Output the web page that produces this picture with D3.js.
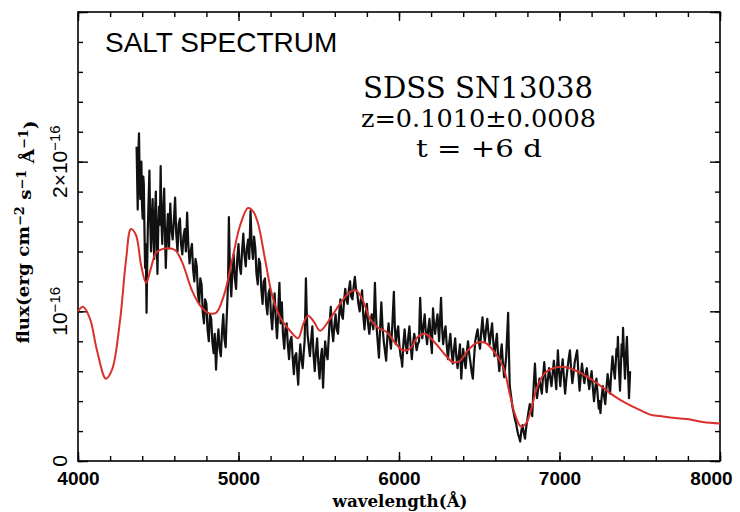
<!DOCTYPE html>
<html>
<head>
<meta charset="utf-8">
<title>SALT spectrum SDSS SN13038</title>
<script src="https://d3js.org/d3.v7.min.js"></script>
<style>
    body { margin: 0; background: #fff; }
</style>
</head>
<body>
<div id="chart"></div>
<script>
    // observed SALT spectrum, [wavelength (A), flux in 1e-16 erg/cm2/s/A]
    var obsSpectrum = [
        [4365,2.10],[4370,1.80],[4372,1.68],[4376,2.05],[4380,2.19],[4384,1.90],[4388,1.75],[4392,1.95],[4395,2.00],[4399,1.70],[4403,1.62],[4407,1.90],[4410,1.85],[4414,1.55],[4418,1.29],[4422,1.45],
        [4427,0.99],[4431,1.30],[4435,1.55],[4440,1.75],[4445,1.94],[4450,1.60],[4455,1.40],[4460,1.62],[4465,1.75],[4470,1.50],[4475,1.35],[4480,1.66],[4485,1.80],[4490,1.50],[4495,1.25],[4500,1.55],
        [4505,1.70],[4510,1.58],[4515,1.97],[4520,1.60],[4525,1.45],[4531,1.68],[4537,1.82],[4542,1.52],[4547,1.29],[4553,1.50],[4560,1.65],[4567,1.42],[4575,1.72],[4582,1.55],[4590,1.48],[4597,1.60],
        [4605,1.76],[4612,1.52],[4620,1.40],[4627,1.58],[4635,1.62],[4642,1.45],[4650,1.38],[4657,1.50],[4665,1.55],[4672,1.40],[4680,1.66],[4687,1.45],[4695,1.32],[4702,1.40],[4710,1.45],[4717,1.28],
        [4725,1.20],[4732,1.35],[4740,1.30],[4747,1.12],[4755,1.05],[4762,1.22],[4770,1.18],[4777,1.00],[4785,0.92],[4792,1.08],[4800,1.05],[4807,0.88],[4815,0.80],[4822,0.98],[4830,0.95],[4837,0.80],
        [4845,0.72],[4852,0.85],[4860,0.61],[4867,0.78],[4875,0.88],[4882,0.75],[4890,0.70],[4897,0.86],[4905,0.98],[4912,0.82],[4920,0.76],[4925,0.92],[4930,1.05],[4935,1.20],[4940,1.63],[4947,1.25],
        [4955,1.10],[4962,1.28],[4970,1.38],[4977,1.22],[4985,1.15],[4992,1.35],[5000,1.45],[5007,1.30],[5015,1.25],[5022,1.40],[5030,1.52],[5037,1.38],[5045,1.30],[5052,1.42],[5060,1.48],[5067,1.35],
        [5075,1.67],[5082,1.45],[5090,1.35],[5097,1.50],[5105,1.42],[5112,1.25],[5120,1.18],[5127,1.35],[5135,1.32],[5142,1.15],[5150,1.05],[5157,1.20],[5165,1.22],[5172,1.05],[5180,0.98],[5187,1.12],
        [5195,1.15],[5202,0.98],[5210,0.88],[5217,1.02],[5225,1.12],[5232,0.95],[5240,0.82],[5247,0.98],[5255,1.19],[5262,0.92],[5270,1.06],[5277,0.85],[5285,0.75],[5292,0.88],[5300,0.92],[5307,0.78],
        [5315,0.68],[5322,0.80],[5330,0.83],[5337,0.70],[5345,0.58],[5352,0.70],[5360,0.72],[5366,0.60],[5372,0.51],[5378,0.66],[5385,0.78],[5392,0.68],[5400,0.62],[5406,0.72],[5412,0.80],[5416,1.00],
        [5420,1.22],[5425,1.00],[5430,0.85],[5437,0.78],[5445,0.70],[5452,0.80],[5460,0.90],[5467,0.72],[5475,0.60],[5482,0.72],[5490,0.82],[5497,0.66],[5505,0.55],[5512,0.68],[5520,0.75],[5523,0.60],
        [5527,0.49],[5533,0.66],[5540,0.80],[5547,0.72],[5555,0.68],[5565,0.88],[5575,1.03],[5582,0.88],[5590,0.80],[5597,0.90],[5605,0.98],[5612,0.88],[5620,0.85],[5627,0.98],[5635,1.08],[5642,0.98],
        [5650,0.95],[5657,1.06],[5665,1.15],[5672,1.08],[5680,1.05],[5687,1.14],[5695,1.20],[5702,1.10],[5710,1.08],[5717,1.16],[5725,1.23],[5732,1.15],[5740,1.12],[5747,1.05],[5755,1.00],[5762,1.08],
        [5770,1.14],[5777,0.98],[5785,0.88],[5792,0.98],[5800,1.05],[5807,0.92],[5815,0.85],[5822,0.92],[5830,0.98],[5835,0.92],[5840,0.88],[5845,1.00],[5850,1.19],[5855,1.02],[5860,0.90],[5867,0.80],
        [5875,0.69],[5882,0.88],[5890,1.06],[5897,0.90],[5905,0.80],[5912,0.74],[5920,0.67],[5927,0.82],[5935,0.92],[5942,0.82],[5950,0.75],[5959,0.92],[5968,1.13],[5974,0.90],[5980,0.78],[5987,0.85],
        [5995,0.90],[6002,0.78],[6010,0.70],[6015,0.68],[6020,0.63],[6027,0.78],[6035,0.88],[6042,0.78],[6050,0.72],[6057,0.82],[6065,0.90],[6072,0.78],[6080,0.68],[6087,0.78],[6095,0.85],[6102,0.80],
        [6110,0.74],[6117,0.78],[6125,0.80],[6128,0.95],[6132,1.09],[6138,0.92],[6145,0.82],[6152,0.90],[6160,0.98],[6167,0.86],[6175,0.78],[6182,0.88],[6190,0.95],[6197,0.82],[6205,0.72],[6208,0.88],
        [6212,1.02],[6218,0.92],[6225,0.85],[6232,0.92],[6240,0.98],[6245,0.88],[6250,0.80],[6256,0.95],[6262,1.09],[6268,0.90],[6275,0.78],[6282,0.85],[6290,0.90],[6297,0.78],[6305,0.68],[6312,0.78],
        [6320,0.85],[6327,0.74],[6335,0.65],[6342,0.74],[6350,0.82],[6357,0.70],[6365,0.62],[6372,0.70],[6380,0.78],[6384,0.66],[6388,0.55],[6394,0.66],[6400,0.75],[6407,0.68],[6415,0.62],[6422,0.72],
        [6430,0.80],[6437,0.72],[6445,0.66],[6452,0.60],[6460,0.55],[6467,0.68],[6475,0.80],[6482,0.84],[6490,0.88],[6497,0.80],[6505,0.75],[6512,0.86],[6520,0.96],[6527,0.86],[6535,0.80],[6542,0.88],
        [6550,0.95],[6557,0.86],[6565,0.78],[6572,0.85],[6580,0.92],[6587,0.80],[6595,0.70],[6602,0.78],[6610,0.85],[6617,0.70],[6625,0.60],[6632,0.70],[6640,0.78],[6647,0.66],[6655,0.56],[6661,0.62],
        [6668,0.70],[6674,0.85],[6680,0.99],[6685,0.72],[6690,0.50],[6695,0.46],[6700,0.42],[6707,0.36],[6715,0.32],[6722,0.28],[6730,0.25],[6736,0.21],[6742,0.18],[6748,0.16],[6755,0.13],[6762,0.20],
        [6770,0.24],[6777,0.19],[6785,0.15],[6792,0.22],[6800,0.28],[6807,0.33],[6815,0.38],[6822,0.34],[6830,0.30],[6838,0.48],[6847,0.65],[6853,0.52],[6860,0.42],[6867,0.48],[6875,0.55],[6882,0.50],
        [6890,0.45],[6897,0.56],[6905,0.66],[6912,0.56],[6920,0.46],[6927,0.54],[6935,0.62],[6942,0.56],[6950,0.50],[6957,0.58],[6965,0.67],[6972,0.57],[6980,0.48],[6985,0.62],[6990,0.74],[6997,0.60],
        [7005,0.50],[7012,0.60],[7020,0.68],[7027,0.56],[7035,0.45],[7042,0.54],[7050,0.62],[7057,0.68],[7065,0.74],[7072,0.62],[7080,0.52],[7087,0.58],[7095,0.66],[7102,0.70],[7110,0.74],[7117,0.60],
        [7125,0.47],[7132,0.56],[7140,0.65],[7147,0.58],[7155,0.52],[7162,0.58],[7170,0.62],[7177,0.55],[7185,0.48],[7192,0.54],[7200,0.60],[7207,0.50],[7215,0.40],[7222,0.48],[7230,0.55],[7237,0.45],
        [7245,0.35],[7250,0.40],[7255,0.32],[7262,0.42],[7270,0.50],[7277,0.44],[7285,0.38],[7292,0.48],[7300,0.58],[7307,0.52],[7315,0.45],[7322,0.58],[7330,0.70],[7337,0.62],[7345,0.55],[7350,0.65],
        [7355,0.75],[7360,0.70],[7364,0.83],[7370,0.62],[7377,0.47],[7382,0.62],[7387,0.78],[7392,0.70],[7396,0.89],[7402,0.70],[7408,0.55],[7414,0.70],[7420,0.83],[7427,0.60],[7433,0.42],[7437,0.52],
        [7440,0.60]
    ];

    // SALT model fit, same units
    var modelSpectrum = [
        [4000,1.00],[4031,1.03],[4075,0.95],[4118,0.74],[4174,0.55],[4212,0.61],[4262,0.94],[4299,1.34],
        [4330,1.55],[4361,1.51],[4393,1.31],[4424,1.19],[4455,1.29],[4486,1.39],[4542,1.42],[4604,1.41],
        [4648,1.33],[4710,1.14],[4760,1.04],[4810,0.99],[4860,0.99],[4910,1.11],[4960,1.34],[5009,1.57],
        [5059,1.69],[5090,1.67],[5121,1.59],[5165,1.35],[5209,1.11],[5259,0.96],[5321,0.87],[5371,0.82],
        [5402,0.91],[5433,0.97],[5470,0.93],[5508,0.87],[5570,0.95],[5632,1.05],[5695,1.13],[5732,1.14],
        [5776,1.07],[5819,0.95],[5869,0.89],[5925,0.86],[5975,0.79],[6025,0.74],[6068,0.75],[6118,0.83],
        [6162,0.85],[6224,0.79],[6287,0.71],[6336,0.66],[6380,0.67],[6430,0.74],[6486,0.79],[6536,0.79],
        [6586,0.74],[6648,0.63],[6692,0.44],[6723,0.31],[6760,0.23],[6791,0.25],[6822,0.34],[6860,0.49],
        [6910,0.59],[6960,0.62],[7016,0.63],[7065,0.62],[7128,0.59],[7190,0.55],[7271,0.49],[7346,0.43],
        [7408,0.39],[7483,0.35],[7564,0.31],[7626,0.30],[7688,0.29],[7794,0.28],[7894,0.26],[8000,0.25]
    ];

    var xMajorTicks = [4000, 5000, 6000, 7000, 8000];
    var yTickLabels = [
        {v: 0, base: "0", exp: ""},
        {v: 1, base: "10", exp: "\u221216"},
        {v: 2, base: "2\u00d710", exp: "\u221216"}
    ];
    var infoLines = ["SDSS SN13038", "z=0.1010\u00b10.0008", "t = +6 d"];

    var W = 740, H = 512;
    var margin = {left: 78, right: 20, top: 12, bottom: 51};
    var sans = "'Liberation Sans', Arial, sans-serif";
    var serif = "'DejaVu Serif', serif";

    function createCanvas() {
        return d3.select("#chart").append("svg")
            .attr("width", W)
            .attr("height", H);
    }

    function drawChart() {
        var svg = createCanvas();
        var x = d3.scaleLinear().domain([4000, 8000]).range([margin.left, W - margin.right]);
        var y = d3.scaleLinear().domain([0, 3]).range([H - margin.bottom, margin.top]);

        drawAxes(svg, x, y);
        drawSpectra(svg, x, y);
        drawText(svg, x, y);
    }

    function styleAxis(g) {
        g.select(".domain").remove();
        g.selectAll(".tick line").attr("stroke", "#000").attr("stroke-width", 1.4);
    }

    function drawAxes(svg, x, y) {
        var minorX = d3.range(4000, 8001, 200);
        var minorY = d3.range(0, 3.001, 0.2);
        var majorY = [0, 1, 2, 3];

        // minor ticks, all four sides pointing in
        svg.append("g").attr("transform", "translate(0," + y(0) + ")")
            .call(d3.axisBottom(x).tickValues(minorX).tickSize(-5).tickFormat("")).call(styleAxis);
        svg.append("g").attr("transform", "translate(0," + y(3) + ")")
            .call(d3.axisTop(x).tickValues(minorX).tickSize(-5).tickFormat("")).call(styleAxis);
        svg.append("g").attr("transform", "translate(" + x(4000) + ",0)")
            .call(d3.axisLeft(y).tickValues(minorY).tickSize(-5).tickFormat("")).call(styleAxis);
        svg.append("g").attr("transform", "translate(" + x(8000) + ",0)")
            .call(d3.axisRight(y).tickValues(minorY).tickSize(-5).tickFormat("")).call(styleAxis);

        // major ticks
        var bottom = svg.append("g").attr("transform", "translate(0," + y(0) + ")")
            .call(d3.axisBottom(x).tickValues(xMajorTicks).tickSize(-9).tickPadding(11).tickFormat(d3.format("d")))
            .call(styleAxis);
        bottom.attr("font-family", sans).attr("font-size", 19).attr("font-weight", "bold");
        bottom.selectAll("text").attr("fill", "#000")
            .attr("dx", function(d) { return d === 8000 ? -9 : 0; });

        svg.append("g").attr("transform", "translate(0," + y(3) + ")")
            .call(d3.axisTop(x).tickValues(xMajorTicks).tickSize(-9).tickFormat("")).call(styleAxis);
        svg.append("g").attr("transform", "translate(" + x(4000) + ",0)")
            .call(d3.axisLeft(y).tickValues(majorY).tickSize(-10).tickFormat("")).call(styleAxis);
        svg.append("g").attr("transform", "translate(" + x(8000) + ",0)")
            .call(d3.axisRight(y).tickValues(majorY).tickSize(-10).tickFormat("")).call(styleAxis);

        // frame
        svg.append("rect")
            .attr("x", x(4000)).attr("y", y(3))
            .attr("width", x(8000) - x(4000)).attr("height", y(0) - y(3))
            .attr("fill", "none").attr("stroke", "#000").attr("stroke-width", 1.6);

        // rotated y tick labels
        var labs = svg.selectAll(".ylab").data(yTickLabels).enter().append("text")
            .attr("class", "ylab")
            .attr("transform", function(d) { return "translate(67," + y(d.v) + ") rotate(-90)"; })
            .attr("text-anchor", "middle")
            .attr("font-family", sans)
            .attr("font-size", 21);
        labs.append("tspan").text(function(d) { return d.base; });
        labs.append("tspan").attr("dy", "-0.5em").attr("font-size", 15).text(function(d) { return d.exp; });
    }

    function drawSpectra(svg, x, y) {
        var obsLine = d3.line()
            .x(function(d) { return x(d[0]); })
            .y(function(d) { return y(d[1]); });

        svg.append("path")
            .datum(obsSpectrum)
            .attr("d", obsLine)
            .attr("fill", "none")
            .attr("stroke", "#111")
            .attr("stroke-width", 2.2)
            .attr("stroke-linejoin", "round");

        var modelLine = d3.line()
            .curve(d3.curveCatmullRom.alpha(0.5))
            .x(function(d) { return x(d[0]); })
            .y(function(d) { return y(d[1]); });

        svg.append("path")
            .datum(modelSpectrum)
            .attr("d", modelLine)
            .attr("fill", "none")
            .attr("stroke", "#d8312c")
            .attr("stroke-width", 2);
    }

    function drawText(svg, x, y) {
        svg.append("text")
            .attr("x", 105).attr("y", 52)
            .attr("font-family", sans).attr("font-size", 28)
            .text("SALT SPECTRUM");

        var info = [
            {x: 363, y: 98, size: 29, len: 230},
            {x: 361, y: 127, size: 25, len: 235},
            {x: 416, y: 157, size: 25, len: 126}
        ];
        svg.selectAll(".info").data(infoLines).enter().append("text")
            .attr("class", "info")
            .attr("x", function(d, i) { return info[i].x; })
            .attr("y", function(d, i) { return info[i].y; })
            .attr("font-family", serif)
            .attr("font-size", function(d, i) { return info[i].size; })
            .attr("textLength", function(d, i) { return info[i].len; })
            .attr("lengthAdjust", "spacingAndGlyphs")
            .text(function(d) { return d; });

        // axis titles
        svg.append("text")
            .attr("x", 400).attr("y", 507)
            .attr("text-anchor", "middle")
            .attr("font-family", serif).attr("font-weight", "bold").attr("font-size", 17)
            .attr("textLength", 135).attr("lengthAdjust", "spacingAndGlyphs")
            .text("wavelength(\u00c5)");

        var parts = [["flux(erg cm", 0], ["\u22122", 1], [" s", 0], ["\u22121", 1], [" \u00c5", 0], ["\u22121", 1], [")", 0]];
        var yt = svg.append("text")
            .attr("transform", "translate(29,232) rotate(-90)")
            .attr("text-anchor", "middle")
            .attr("font-family", serif).attr("font-weight", "bold").attr("font-size", 17)
            .attr("textLength", 223).attr("lengthAdjust", "spacingAndGlyphs");
        var prev = 0;
        parts.forEach(function(p) {
            var shift = p[1] ? "-0.45em" : (prev ? "0.45em" : "0");
            yt.append("tspan").attr("dy", shift).attr("font-size", p[1] ? 12 : 17).text(p[0]);
            prev = p[1];
        });
    }

    drawChart();
</script>
</body>
</html>
